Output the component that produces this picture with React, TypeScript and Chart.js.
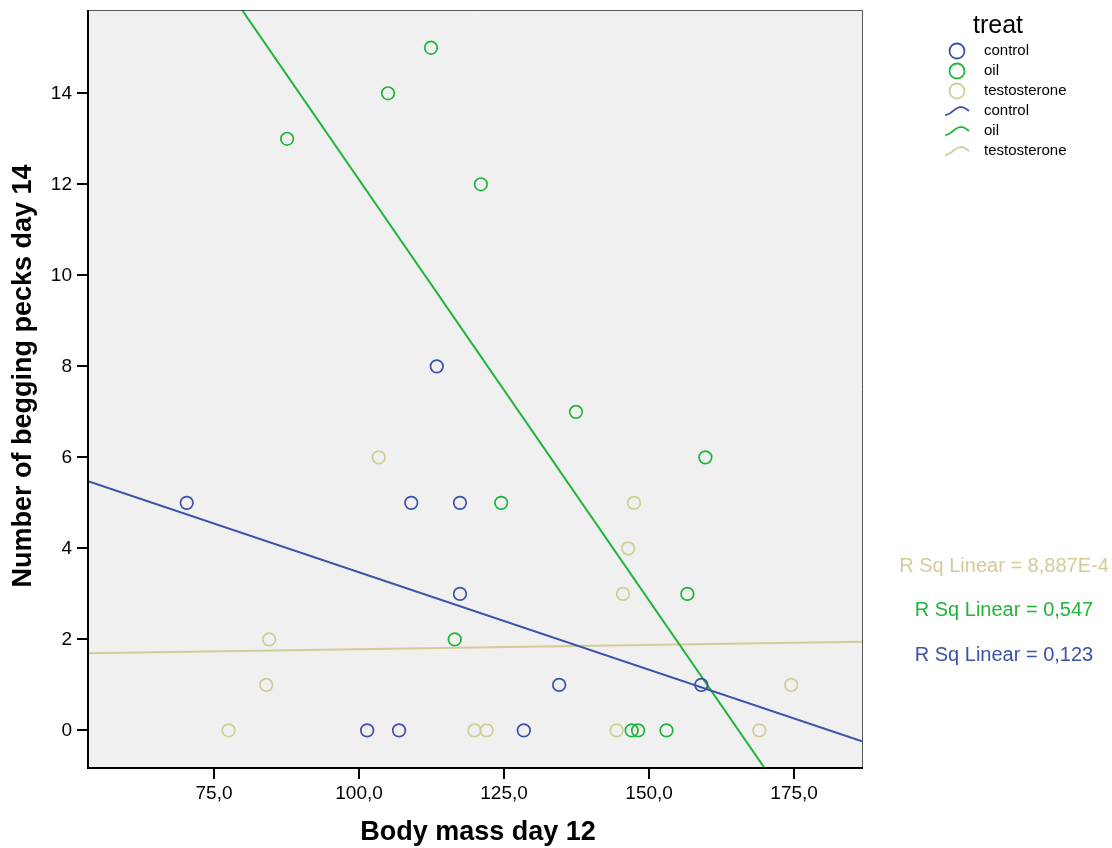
import React, { useEffect, useRef } from "react";
import { Chart, registerables } from "chart.js";

Chart.register(...registerables);

const controlX = [70.3, 113.4, 109.0, 117.4, 117.4, 134.5, 159.0, 101.4, 106.9, 128.4];
const controlY = [5, 8, 5, 5, 3, 1, 1, 0, 0, 0];
const oilX = [87.6, 105.0, 112.4, 121.0, 137.4, 159.7, 124.5, 156.6, 116.5, 147.0, 148.1, 153.0];
const oilY = [13, 14, 15, 12, 7, 6, 5, 3, 2, 0, 0, 0];
const testoX = [103.4, 147.4, 146.4, 145.5, 84.5, 84.0, 174.5, 77.5, 119.9, 122.0, 144.4, 169.0];
const testoY = [6, 5, 4, 3, 2, 1, 1, 0, 0, 0, 0, 0];

const xTicks = [75, 100, 125, 150, 175];
const yTicks = [0, 2, 4, 6, 8, 10, 12, 14];
const xRange = [53.28, 186.7];
const yRange = [-0.826, 15.83];

const groups = ["control", "oil", "testosterone"];
const rsqLabels = ["R Sq Linear = 0,123", "R Sq Linear = 0,547", "R Sq Linear = 8,887E-4"];
const colors = ["#3b52a8", "#1fb53a", "#d4cb96"];

const FONT = "'Liberation Sans', Arial, sans-serif";

function toPoints(xs: number[], ys: number[]) {
  return xs.map((x, i) => ({ x, y: ys[i] }));
}

function fitLine(xs: number[], ys: number[]) {
  const n = xs.length;
  const mx = xs.reduce((a, b) => a + b, 0) / n;
  const my = ys.reduce((a, b) => a + b, 0) / n;
  let sxy = 0;
  let sxx = 0;
  for (let i = 0; i < n; i++) {
    sxy += (xs[i] - mx) * (ys[i] - my);
    sxx += (xs[i] - mx) ** 2;
  }
  const b = sxy / sxx;
  const a = my - b * mx;
  return xRange.map((x) => ({ x, y: a + b * x }));
}

export default function App() {
  const ref = useRef<HTMLCanvasElement | null>(null);

  useEffect(() => {
    if (!ref.current) return;
    const seriesX = [controlX, oilX, testoX];
    const seriesY = [controlY, oilY, testoY];

    const pointSets = groups.map((g, i) => ({
      type: "scatter" as const,
      label: g,
      data: toPoints(seriesX[i], seriesY[i]),
      borderColor: colors[i],
      backgroundColor: "rgba(0,0,0,0)",
      pointRadius: 6.3,
      pointBorderWidth: 1.7,
      showLine: false,
      order: 1,
    }));
    const lineSets = groups.map((g, i) => ({
      type: "scatter" as const,
      label: g + " fit",
      data: fitLine(seriesX[i], seriesY[i]),
      borderColor: colors[i],
      backgroundColor: colors[i],
      borderWidth: 2,
      pointRadius: 0,
      showLine: true,
      order: 2,
    }));

    const bgPlugin = {
      id: "bgframe",
      beforeDatasetsDraw(chart: any) {
        const { ctx, chartArea: a } = chart;
        ctx.save();
        ctx.fillStyle = "#f0f0f0";
        ctx.fillRect(a.left, a.top, a.right - a.left, a.bottom - a.top);
        ctx.restore();
      },
      afterDatasetsDraw(chart: any) {
        const { ctx, chartArea: a } = chart;
        ctx.save();
        ctx.strokeStyle = "#555";
        ctx.lineWidth = 1;
        ctx.beginPath();
        ctx.moveTo(a.left, a.top + 0.5);
        ctx.lineTo(a.right + 0.5, a.top + 0.5);
        ctx.lineTo(a.right + 0.5, a.bottom);
        ctx.stroke();
        ctx.strokeStyle = "#000";
        ctx.lineWidth = 2;
        ctx.beginPath();
        ctx.moveTo(a.left, a.top);
        ctx.lineTo(a.left, a.bottom);
        ctx.lineTo(a.right + 1, a.bottom);
        ctx.stroke();
        ctx.restore();
      },
      afterDraw(chart: any) {
        const { ctx, chartArea: a } = chart;
        ctx.save();
        // axis titles
        ctx.fillStyle = "#000";
        ctx.font = `bold 27px ${FONT}`;
        ctx.textAlign = "center";
        ctx.textBaseline = "middle";
        ctx.fillText("Body mass day 12", 478, 833);
        ctx.save();
        ctx.translate(24, 376);
        ctx.rotate(-Math.PI / 2);
        ctx.fillText("Number of begging pecks day 14", 0, 0);
        ctx.restore();

        // legend
        ctx.font = `25px ${FONT}`;
        ctx.textAlign = "center";
        ctx.fillText("treat", 998, 26);
        ctx.font = `15px ${FONT}`;
        ctx.textAlign = "left";
        const rows = [51, 71, 91, 111, 131, 151];
        groups.forEach((g, i) => {
          ctx.strokeStyle = colors[i];
          ctx.lineWidth = 1.8;
          ctx.beginPath();
          ctx.arc(957, rows[i], 7.5, 0, Math.PI * 2);
          ctx.stroke();
          ctx.fillStyle = "#000";
          ctx.fillText(g, 984, rows[i]);
        });
        groups.forEach((g, i) => {
          const yc = rows[i + 3];
          ctx.strokeStyle = colors[i];
          ctx.lineWidth = 1.7;
          ctx.beginPath();
          for (let k = 0; k <= 24; k++) {
            const t = k / 24;
            const x = 945 + 24 * t;
            const y = yc - 4 * Math.sin(2 * Math.PI * (t * 0.75 - 0.25));
            if (k === 0) ctx.moveTo(x, y);
            else ctx.lineTo(x, y);
          }
          ctx.stroke();
          ctx.fillStyle = "#000";
          ctx.fillText(g, 984, yc);
        });

        // R squared labels
        ctx.font = `20px ${FONT}`;
        ctx.textAlign = "center";
        const rsqY = [655, 610, 566];
        rsqLabels.forEach((t, i) => {
          ctx.fillStyle = colors[i];
          ctx.fillText(t, 1004, rsqY[i]);
        });
        ctx.restore();
      },
    };

    const chart = new Chart(ref.current, {
      type: "scatter",
      data: { datasets: [...pointSets, ...lineSets] as any },
      options: {
        animation: false,
        responsive: false,
        maintainAspectRatio: false,
        events: [],
        layout: { padding: { left: 0, right: 250, top: 10, bottom: 0 } },
        plugins: { legend: { display: false }, tooltip: { enabled: false } },
        scales: {
          x: {
            type: "linear",
            min: xRange[0],
            max: xRange[1],
            afterBuildTicks: (s: any) => {
              s.ticks = xTicks.map((v) => ({ value: v }));
            },
            afterFit: (s: any) => {
              s.height = 80;
              s.paddingLeft = 0;
              s.paddingRight = 0;
            },
            border: { display: false },
            grid: {
              drawOnChartArea: false,
              drawTicks: true,
              tickLength: 11,
              color: "#000",
              lineWidth: 2,
            },
            ticks: {
              color: "#000",
              font: { family: FONT, size: 19 },
              padding: 3,
              maxRotation: 0,
              autoSkip: false,
              callback: (v: any) => Number(v).toFixed(1).replace(".", ","),
            },
          },
          y: {
            type: "linear",
            min: yRange[0],
            max: yRange[1],
            afterBuildTicks: (s: any) => {
              s.ticks = yTicks.map((v) => ({ value: v }));
            },
            afterFit: (s: any) => {
              s.width = 88;
              s.paddingTop = 0;
              s.paddingBottom = 0;
            },
            border: { display: false },
            grid: {
              drawOnChartArea: false,
              drawTicks: true,
              tickLength: 11,
              color: "#000",
              lineWidth: 2,
            },
            ticks: {
              color: "#000",
              font: { family: FONT, size: 19 },
              padding: 5,
              autoSkip: false,
              callback: (v: any) => String(v),
            },
          },
        },
      },
      plugins: [bgPlugin],
    });
    return () => chart.destroy();
  }, []);

  return (
    <div style={{ position: "absolute", left: 0, top: 0, width: 1112, height: 848, background: "#fff" }}>
      <canvas ref={ref} width={1112} height={848} style={{ width: 1112, height: 848, display: "block" }} />
    </div>
  );
}
